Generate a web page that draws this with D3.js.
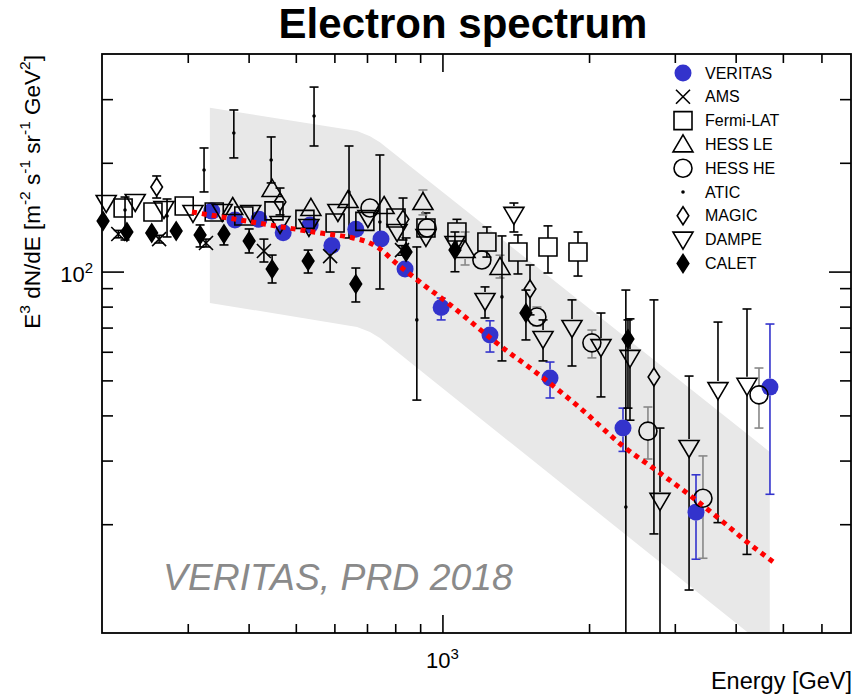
<!DOCTYPE html>
<html>
<head>
<meta charset="utf-8">
<script src="https://cdn.jsdelivr.net/npm/d3@7"></script>
<style>
body { margin: 0; background: #fff; }
text { font-family: "Liberation Sans", Arial, Helvetica, sans-serif; }
</style>
</head>
<body>
<div id="chart"></div>
<script>
// values (energy in GeV, E^3 dN/dE)
const veritasE  = [336, 375, 420, 471, 535, 593, 664, 748, 838, 994, 1252, 1663, 2348, 3316, 4704];
const veritasF  = [147, 139, 139.5, 128, 134.6, 118, 131, 123, 101.6, 79.5, 66.8, 50.8, 36.9, 21.6, 47.9];
const veritasLo = [143, 135, 135.5, 124, 131, 114.5, 127, 119, 98, 73.5, 59.9, 44.7, 31.8, 16.0, 24.2];
const veritasHi = [151, 143, 143.5, 132, 138, 121.5, 135, 127, 105, 84.5, 73.1, 56.2, 41.9, 27.4, 71.6];

const amsE  = [216, 262, 327, 430, 588, 826];
const amsF  = [127.1, 123, 120, 114, 110.4, 114.7];
const amsLo = [124, 120, 117, 106.3, 99.7, 111];
const amsHi = [130, 126, 123, 123, 116.2, 118];

const fermiE  = [221, 254.5, 295, 340, 391, 451, 522, 602, 693, 803, 925, 1071, 1234, 1429, 1647, 1898];
const fermiF  = [150, 146.2, 151.9, 146.2, 142.5, 147.2, 139.5, 136.3, 137.7, 140.7, 132, 128.7, 120.8, 113.3, 117, 113.3];
const fermiLo = [144, 140.4, 145.8, 140.4, 136.8, 141.3, 134, 130.8, 132, 134.5, 124.7, 116.2, 109.7, 98.5, 99.1, 97.2];
const fermiHi = [156, 152, 158, 152, 148.2, 153.1, 145, 141.8, 143.2, 147, 145.3, 139.5, 132.9, 126.3, 133.8, 128.7];

const hessLeE  = [371, 447, 537, 640, 759, 912, 1113, 1313];
const hessLeF  = [150.9, 169.3, 150, 157.8, 151.9, 155.8, 114.7, 103];
const hessLeLo = [145, 163, 144, 151.5, 145.8, 143.5, 104.3, 96];
const hessLeHi = [157, 176, 156, 164, 158, 168.2, 128.7, 111];

const hessHeE  = [710, 930, 1205, 1563, 2027, 2642, 3427, 4466];
const hessHeF  = [150, 132, 107.7, 74.9, 63.5, 36.2, 23.6, 45.6];
const hessHeLo = [144, 127, 103, 70.7, 57.7, 30.3, 16.1, 36.9];
const hessHeHi = [156, 137, 112.5, 79.8, 68.9, 42.2, 30.9, 54.1];

const aticE  = [223, 272, 324, 373, 445, 545, 643, 744, 886, 1325, 2380];
const aticF  = [148.1, 142.5, 191, 241.8, 203.6, 269.5, 166.1, 137.2, 73.5, 85.1, 22.3];
const aticLo = [122.3, 124.7, 166.1, 206.3, 175.9, 222.6, 123.9, 89.5, 44.1, 56.6, 8];
const aticHi = [160.8, 158.8, 219.8, 280, 235.8, 324, 222.6, 210.2, 117, 125.5, 88.9];

const magicE  = [259, 464, 830, 1513, 2718];
const magicF  = [171.4, 155.8, 139.5, 89.5, 51.1];
const magicLo = [159.8, 143.5, 122.3, 75.9, 18.8];
const magicHi = [183.9, 170.3, 159.8, 104.3, 83.5];

const dampeE  = [204, 234, 268, 307.5, 353, 404, 464, 532, 610, 703, 807, 925, 1061, 1223, 1402, 1609, 1845, 2116, 2427, 2797, 3209, 3679, 4220];
const dampeF  = [154.8, 155.8, 149, 145.3, 146.2, 145.3, 135.4, 132.9, 146.2, 140.7, 128.7, 124.7, 119.2, 82.9, 143.5, 65.1, 69.8, 61.8, 57.7, 23.2, 32.5, 47.0, 48.3];
const dampeLo = [150, 151, 144.5, 141, 141.8, 141, 131, 128.5, 141.8, 136.5, 124.5, 120.5, 113, 74.4, 128.7, 56.6, 54.8, 45, 38.8, 8, 13.15, 20.2, 16.5];
const dampeHi = [159.5, 160.5, 153.5, 149.6, 150.6, 149.6, 139.6, 137.3, 150.6, 145, 133, 129, 125.5, 90.7, 154.8, 73.5, 83.5, 76.8, 74, 36.9, 51.4, 72.5, 78.8];

const caletE  = [201, 225, 253, 284, 318, 356, 401, 447, 530, 664, 842, 1061, 1484, 2404];
const caletF  = [138, 128.7, 127.9, 129.5, 126.3, 127.1, 121.5, 101.6, 107, 92.4, 113.3, 114.7, 76.8, 65.1];
const caletLo = [134, 125, 124, 125.6, 117, 118.5, 112.6, 93, 99.1, 82.4, 103.6, 99.9, 64.7, 41.9];
const caletHi = [142, 132.5, 131.8, 133.4, 134.6, 134.6, 131.2, 111.1, 114.7, 102.3, 123.9, 128.7, 88.9, 73.5];

// broken power law fit (red dotted)
const fitE = [306, 353, 406, 468, 561, 655, 697, 737, 807, 899, 1051, 1211, 1357, 1534, 1916, 2348, 2797, 3253, 3767, 4220, 4816];
const fitF = [146.2, 141.6, 137.2, 132.9, 127.9, 123.9, 121.2, 116.6, 105, 93.6, 79.8, 68.1, 60.3, 53.4, 41.95, 32.9, 27.7, 23.8, 20.3, 17.86, 15.6];

// systematic band (grey)
const bandE  = [333, 668, 710, 744, 4700];
const bandHi = [284, 245, 237, 228, 31.7];
const bandLo = [81.9, 70.3, 68.1, 65.5, 8.97];

const xMinorTicks = [300, 400, 500, 600, 700, 800, 900, 2000, 3000, 4000, 5000, 6000];
const xMajorTicks = [1000];
const yMinorTicks = [20, 30, 40, 50, 60, 70, 80, 90, 200, 300];
const yMajorTicks = [100];

const W = 857, H = 696;
const frame = { left: 102, right: 851, top: 54, bottom: 633 };

const svg = d3.select("#chart").append("svg")
	.attr("width", W)
	.attr("height", H);

const x = d3.scaleLog().domain([200, 6900]).range([frame.left, frame.right]);
const y = d3.scaleLog().domain([10, 400]).range([frame.bottom, frame.top]);

svg.append("clipPath").attr("id", "frameClip")
	.append("rect")
	.attr("x", frame.left).attr("y", frame.top)
	.attr("width", frame.right - frame.left)
	.attr("height", frame.bottom - frame.top);

// band
const band = bandE.map((e, i) => ({ e, lo: bandLo[i], hi: bandHi[i] }));
svg.append("path")
	.datum(band)
	.attr("clip-path", "url(#frameClip)")
	.attr("fill", "#e8e8e8")
	.attr("d", d3.area().x(d => x(d.e)).y0(d => y(d.lo)).y1(d => y(d.hi)));

// marker shapes, centred on 0,0
const markers = {
	dot:     { d: null, r: 8.5, gap: 8.5, fill: true },
	cross:   { d: "M-7,-7L7,7M-7,7L7,-7", gap: 0 },
	square:  { d: "M-9,-9h18v18h-18z", gap: 9 },
	triUp:   { d: "M0,-9.5L10,7.5L-10,7.5Z", gap: 9 },
	circle:  { d: null, r: 9, gap: 9 },
	point:   { d: null, r: 1.8, gap: 0, fill: true },
	diamond: { d: "M0,-9L5.8,0L0,9L-5.8,0Z", gap: 9 },
	triDown: { d: "M0,9.5L10,-7.5L-10,-7.5Z", gap: 9 },
	diamondF:{ d: "M0,-9L5.8,0L0,9L-5.8,0Z", gap: 9, fill: true }
};

function drawMarker(g, type, color) {
	const m = markers[type];
	if (m.d === null) {
		return g.append("circle").attr("r", m.r)
			.attr("fill", m.fill ? color : "none")
			.attr("stroke", m.fill ? "none" : color)
			.attr("stroke-width", 1.6);
	}
	return g.append("path").attr("d", m.d)
		.attr("fill", m.fill ? color : "none")
		.attr("stroke", color)
		.attr("stroke-width", 1.6)
		.attr("stroke-linejoin", "miter");
}

const series = [
	{ name: "VERITAS",   E: veritasE, F: veritasF, lo: veritasLo, hi: veritasHi, marker: "dot",      color: "#3333cc", err: "#3333cc" },
	{ name: "AMS",       E: amsE,     F: amsF,     lo: amsLo,     hi: amsHi,     marker: "cross",    color: "#000",    err: "#000" },
	{ name: "Fermi-LAT", E: fermiE,   F: fermiF,   lo: fermiLo,   hi: fermiHi,   marker: "square",   color: "#000",    err: "#000" },
	{ name: "HESS LE",   E: hessLeE,  F: hessLeF,  lo: hessLeLo,  hi: hessLeHi,  marker: "triUp",    color: "#000",    err: "#888" },
	{ name: "HESS HE",   E: hessHeE,  F: hessHeF,  lo: hessHeLo,  hi: hessHeHi,  marker: "circle",   color: "#000",    err: "#888" },
	{ name: "ATIC",      E: aticE,    F: aticF,    lo: aticLo,    hi: aticHi,    marker: "point",    color: "#000",    err: "#000" },
	{ name: "MAGIC",     E: magicE,   F: magicF,   lo: magicLo,   hi: magicHi,   marker: "diamond",  color: "#000",    err: "#000" },
	{ name: "DAMPE",     E: dampeE,   F: dampeF,   lo: dampeLo,   hi: dampeHi,   marker: "triDown",  color: "#000",    err: "#000" },
	{ name: "CALET",     E: caletE,   F: caletF,   lo: caletLo,   hi: caletHi,   marker: "diamondF", color: "#000",    err: "#000" }
];

const plot = svg.append("g");
const errLayer = plot.append("g").attr("clip-path", "url(#frameClip)");

series.forEach(s => {
	const pts = s.E.map((e, i) => ({ e, f: s.F[i], lo: s.lo[i], hi: s.hi[i] }));
	const gap = markers[s.marker].gap;
	const eg = errLayer.append("g").attr("stroke", s.err).attr("stroke-width", 1.6).attr("fill", "none");
	pts.forEach(p => {
		const cx = x(p.e), cy = y(p.f), yt = y(p.hi), yb = y(p.lo);
		if (cy - gap > yt) {
			eg.append("line").attr("x1", cx).attr("x2", cx).attr("y1", yt).attr("y2", cy - gap);
			eg.append("line").attr("x1", cx - 4.5).attr("x2", cx + 4.5).attr("y1", yt).attr("y2", yt);
		}
		if (yb > cy + gap) {
			eg.append("line").attr("x1", cx).attr("x2", cx).attr("y1", cy + gap).attr("y2", yb);
			eg.append("line").attr("x1", cx - 4.5).attr("x2", cx + 4.5).attr("y1", yb).attr("y2", yb);
		}
	});
	const mg = plot.append("g");
	pts.forEach(p => {
		const g = mg.append("g").attr("transform", `translate(${x(p.e)},${y(p.f)})`);
		drawMarker(g, s.marker, s.color);
	});
});

// fit
const fit = fitE.map((e, i) => ({ e, f: fitF[i] }));
svg.append("path")
	.datum(fit)
	.attr("fill", "none")
	.attr("stroke", "#ff0000")
	.attr("stroke-width", 5)
	.attr("stroke-dasharray", "5 5")
	.attr("d", d3.line().x(d => x(d.e)).y(d => y(d.f)).curve(d3.curveMonotoneX));

// axes, ticks inside the frame
function tickAxis(axis, tf, vals, size) {
	const g = svg.append("g").attr("transform", tf)
		.call(axis.tickValues(vals).tickSize(size).tickFormat(""));
	g.select(".domain").remove();
	g.selectAll(".tick line").attr("stroke", "#000").attr("stroke-width", 1.6);
}
tickAxis(d3.axisBottom(x), `translate(0,${frame.bottom})`, xMinorTicks, -9);
tickAxis(d3.axisBottom(x), `translate(0,${frame.bottom})`, xMajorTicks, -18);
tickAxis(d3.axisTop(x), `translate(0,${frame.top})`, xMinorTicks, -9);
tickAxis(d3.axisTop(x), `translate(0,${frame.top})`, xMajorTicks, -18);
tickAxis(d3.axisLeft(y), `translate(${frame.left},0)`, yMinorTicks, -11);
tickAxis(d3.axisLeft(y), `translate(${frame.left},0)`, yMajorTicks, -22);
tickAxis(d3.axisRight(y), `translate(${frame.right},0)`, yMinorTicks, -11);
tickAxis(d3.axisRight(y), `translate(${frame.right},0)`, yMajorTicks, -22);

svg.append("rect")
	.attr("x", frame.left).attr("y", frame.top)
	.attr("width", frame.right - frame.left)
	.attr("height", frame.bottom - frame.top)
	.attr("fill", "none")
	.attr("stroke", "#000")
	.attr("stroke-width", 1.8);

// tick labels as 10^n
function powLabel(px, py, anchor, base, exp) {
	const t = svg.append("text").attr("x", px).attr("y", py)
		.attr("text-anchor", anchor).attr("font-size", 22);
	t.append("tspan").text(base);
	t.append("tspan").attr("dy", -9).attr("font-size", 15).text(exp);
}
yMajorTicks.forEach(v => powLabel(93, y(v) + 10, "end", "10", Math.round(Math.log10(v))));
xMajorTicks.forEach(v => powLabel(x(v), 668, "middle", "10", Math.round(Math.log10(v))));

// axis titles
svg.append("text")
	.attr("x", 852).attr("y", 689)
	.attr("text-anchor", "end")
	.attr("font-size", 23.5)
	.text("Energy [GeV]");

const yt = svg.append("text")
	.attr("transform", "translate(40,55) rotate(-90)")
	.attr("text-anchor", "end")
	.attr("font-size", 22.5);
[["E", ""], ["3", "sup"], [" dN/dE [m", ""], ["-2", "sup"], [" s", ""], ["-1", "sup"],
 [" sr", ""], ["-1", "sup"], [" GeV", ""], ["2", "sup"], ["]", ""]].forEach((p, i, arr) => {
	const prevSup = i > 0 && arr[i - 1][1] === "sup";
	const ts = yt.append("tspan").text(p[0]);
	if (p[1] === "sup") ts.attr("dy", -10).attr("font-size", 15.5);
	else if (prevSup) ts.attr("dy", 10);
});

// title
svg.append("text")
	.attr("x", 463).attr("y", 38)
	.attr("text-anchor", "middle")
	.attr("font-size", 42)
	.attr("font-weight", "bold")
	.text("Electron spectrum");

// watermark
svg.append("text")
	.attr("x", 163).attr("y", 590)
	.attr("font-size", 37.3)
	.attr("font-style", "italic")
	.attr("fill", "#8a8a8a")
	.text("VERITAS, PRD 2018");

// legend
const legend = svg.append("g");
series.forEach((s, i) => {
	const ly = 73 + i * 23.8;
	const g = legend.append("g").attr("transform", `translate(683,${ly})`);
	drawMarker(g, s.marker, s.color);
	legend.append("text")
		.attr("x", 705).attr("y", ly + 5.5)
		.attr("font-size", 16)
		.text(s.name);
});
</script>
</body>
</html>
